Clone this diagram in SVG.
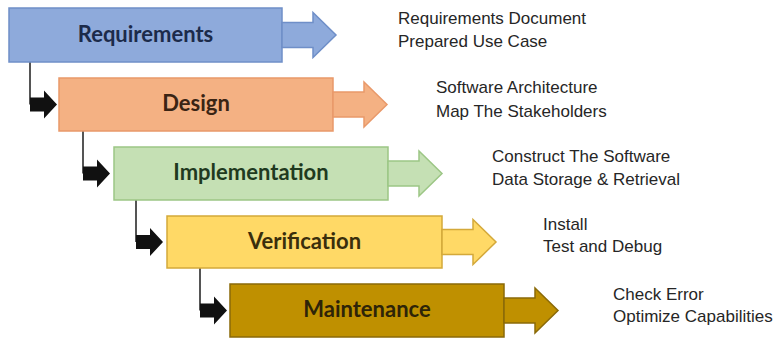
<svg xmlns="http://www.w3.org/2000/svg" xmlns:xlink="http://www.w3.org/1999/xlink" width="777" height="338" viewBox="0 0 777 338">
<defs>
<style>
.box{stroke-width:1.5}
.ttl{font-family:Lato,"Open Sans",sans-serif;font-weight:bold;font-size:22px;text-anchor:middle}
.desc{font-family:"Liberation Sans",Arial,sans-serif;font-size:17px;fill:#262626}
.vline{stroke:#555;stroke-width:2;fill:none}
.blk{fill:#111}
</style>
<path id="fat" d="M0,-12.5 H31 V-22.5 L54,0 L31,22.5 V12.5 H0 Z" stroke-width="1.5"/>
<path id="blkarrow" d="M0,-7 H14 V-14 L27,0 L14,14 V7 H0 Z"/>
</defs>
<rect width="777" height="338" fill="#ffffff"/>
<g id="connectors">
<path class="vline" d="M30,62 V104.5"/>
<use xlink:href="#blkarrow" class="blk" x="30" y="104.5"/>
<path class="vline" d="M83,131 V173.5"/>
<use xlink:href="#blkarrow" class="blk" x="83" y="173.5"/>
<path class="vline" d="M136,200 V242"/>
<use xlink:href="#blkarrow" class="blk" x="136" y="242"/>
<path class="vline" d="M200,268 V310.5"/>
<use xlink:href="#blkarrow" class="blk" x="200" y="310.5"/>
</g>
<g id="requirements">
<rect class="box" x="9" y="8" width="273" height="54" fill="#8eaadb" stroke="#6f8fc8"/>
<use xlink:href="#fat" x="282" y="35" fill="#8eaadb" stroke="#6f8fc8"/>
<text class="ttl" x="145.5" y="41.5" fill="#1c2b4a">Requirements</text>
<text class="desc" x="398" y="24">Requirements Document</text>
<text class="desc" x="398" y="47">Prepared Use Case</text>
</g>
<g id="design">
<rect class="box" x="59" y="78" width="274" height="53" fill="#f4b183" stroke="#e9996a"/>
<use xlink:href="#fat" x="333" y="104.5" fill="#f4b183" stroke="#e9996a"/>
<text class="ttl" x="196" y="111" fill="#3a2414">Design</text>
<text class="desc" x="436" y="93">Software Architecture</text>
<text class="desc" x="436" y="117">Map The Stakeholders</text>
</g>
<g id="implementation">
<rect class="box" x="114" y="147" width="274" height="53" fill="#c5e0b4" stroke="#9cc685"/>
<use xlink:href="#fat" x="388" y="173.5" fill="#c5e0b4" stroke="#9cc685"/>
<text class="ttl" x="251" y="180" fill="#1f3a1f">Implementation</text>
<text class="desc" x="492" y="162">Construct The Software</text>
<text class="desc" x="492" y="185">Data Storage &amp; Retrieval</text>
</g>
<g id="verification">
<rect class="box" x="167" y="216" width="275" height="52" fill="#ffd966" stroke="#d4a93a"/>
<use xlink:href="#fat" x="442" y="242" fill="#ffd966" stroke="#d4a93a"/>
<text class="ttl" x="304.5" y="248.5" fill="#3a2e0c">Verification</text>
<text class="desc" x="543" y="230">Install</text>
<text class="desc" x="543" y="252">Test and Debug</text>
</g>
<g id="maintenance">
<rect class="box" x="230" y="284" width="274" height="53" fill="#bf9000" stroke="#8a6a08"/>
<use xlink:href="#fat" x="504" y="310.5" fill="#bf9000" stroke="#8a6a08"/>
<text class="ttl" x="367" y="317" fill="#2e2408">Maintenance</text>
<text class="desc" x="613" y="300">Check Error</text>
<text class="desc" x="613" y="322">Optimize Capabilities</text>
</g>
</svg>
